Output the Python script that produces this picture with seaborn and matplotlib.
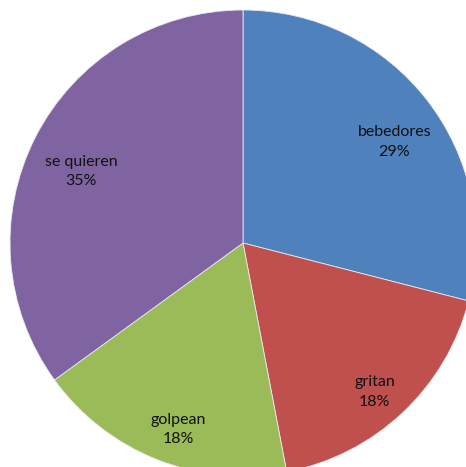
import matplotlib
matplotlib.use("Agg")
import matplotlib.pyplot as plt
import matplotlib.transforms as mtransforms
import seaborn as sns

# Data
categories = ["bebedores", "gritan", "golpean", "se quieren"]
percentages = [29, 18, 18, 35]
colors = ["#4F81BD", "#C0504D", "#9BBB59", "#8064A2"]

sns.set_theme(style="white")
plt.rcParams["font.family"] = ["Lato", "DejaVu Sans"]

fig = plt.figure(figsize=(4.66, 4.67), dpi=100)
ax = fig.add_axes([0, 0, 1, 1])

labels = [f"{c}\n{p}%" for c, p in zip(categories, percentages)]
wedges, texts = ax.pie(
    percentages,
    labels=labels,
    colors=colors,
    startangle=90,
    counterclock=False,
    labeldistance=0.8,
    wedgeprops=dict(edgecolor="#E8E8F0", linewidth=0.6),
    textprops=dict(fontsize=11.5, color="#111111", ha="center", va="center",
                   linespacing=1.5),
)
# Excel-style labels sit a little lower than the wedge centre
shift = mtransforms.offset_copy(ax.transData, fig=fig, x=3, y=-9.5, units="points")
for t in texts:
    t.set_horizontalalignment("center")
    t.set_transform(shift)

# radius 1 = 233 px, centre at pixel (243, 243)
ax.set_xlim(-243 / 233, (466 - 243) / 233)
ax.set_ylim(-(467 - 243) / 233, 243 / 233)
ax.set_aspect("equal")
ax.axis("off")

fig.savefig("out.png", dpi=100, facecolor="white")
